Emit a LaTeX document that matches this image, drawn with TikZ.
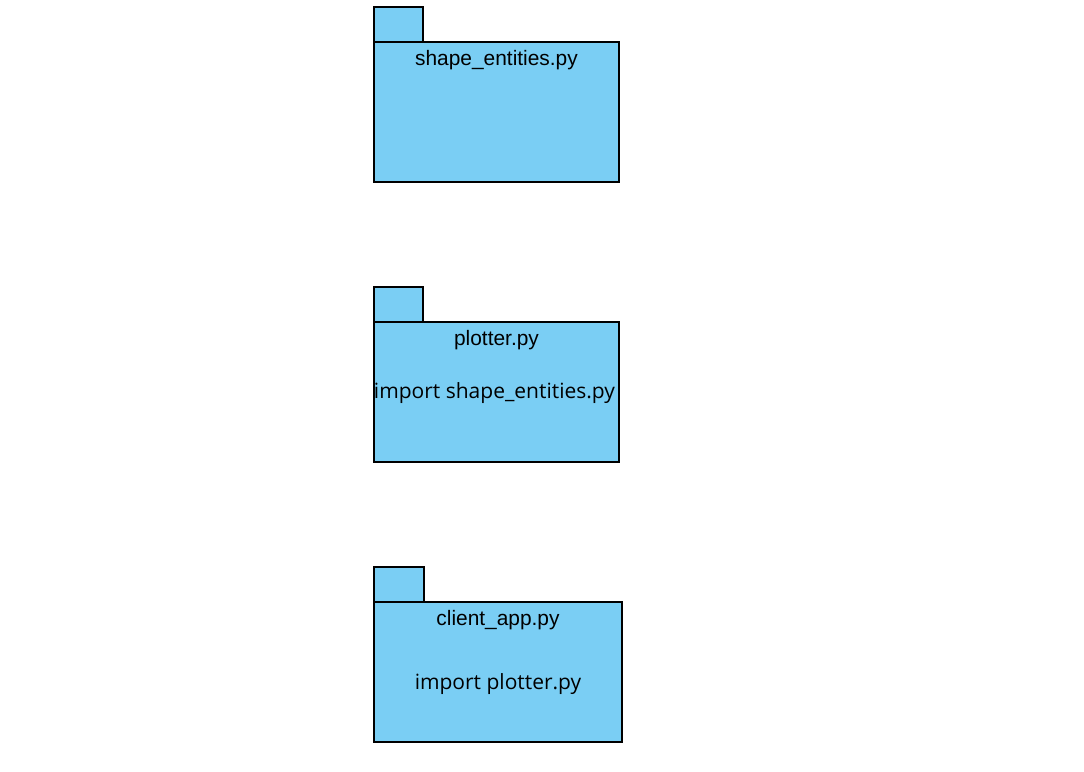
\documentclass[tikz,border=0pt]{standalone}
\usepackage{fontspec}
\setmainfont{Liberation Sans}
\newfontfamily\opensans{Open Sans}
\definecolor{pkgblue}{RGB}{122,206,244}
\begin{document}
\begin{tikzpicture}[x=1pt,y=-1pt,
  pkg/.style={draw=black,fill=pkgblue,line width=1.2pt},
  title/.style={font=\fontsize{20.9}{24}\selectfont,inner sep=0pt},
  body/.style={font=\opensans\fontsize{21}{24}\selectfont,inner sep=0pt}]
\useasboundingbox (0,0) rectangle (1084,771);
% package 1
\draw[pkg] (374,7) rectangle (423,42);
\draw[pkg] (374,42) rectangle (619,182);
\node[title] (t1) at (496.5,60) {shape\_entities.py};
% package 2
\draw[pkg] (374,287) rectangle (423,322);
\draw[pkg] (374,322) rectangle (619,462);
\node[title] (t2) at (496.5,340) {plotter.py};
\node[body] (b2) at (494.5,393) {import shape\_entities.py};
% package 3
\draw[pkg] (374,567) rectangle (424,602);
\draw[pkg] (374,602) rectangle (622,742);
\node[title] (t3) at (498,620) {client\_app.py};
\node[body] (b3) at (498,684) {import plotter.py};
\end{tikzpicture}
\end{document}
